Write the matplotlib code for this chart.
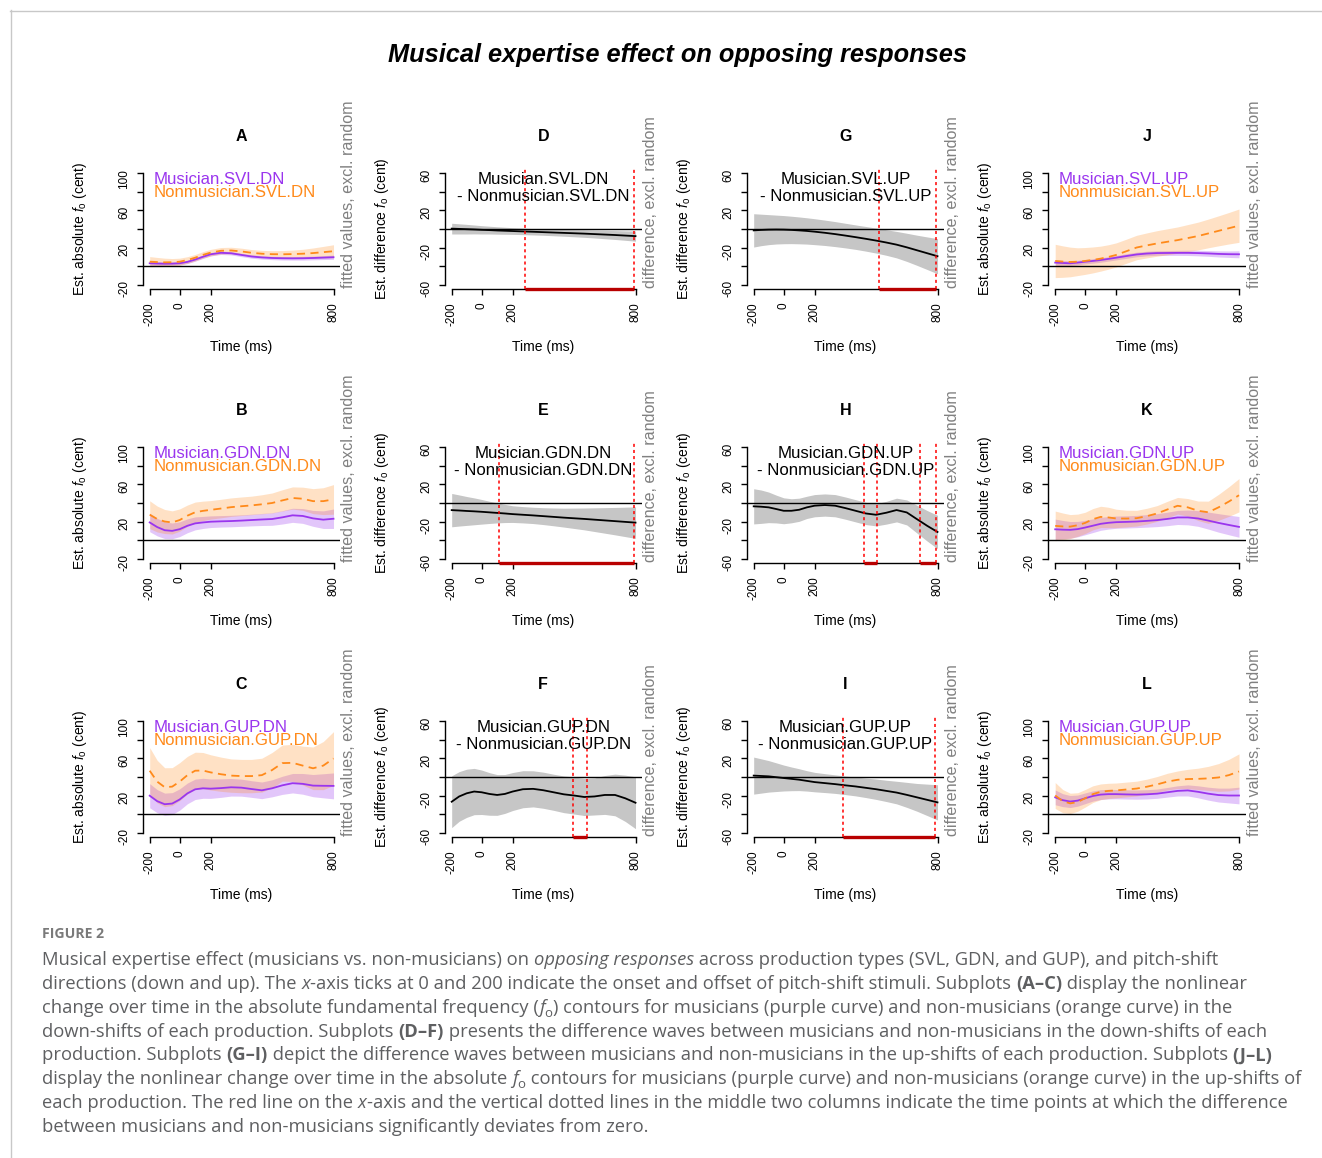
import numpy as np
import matplotlib
matplotlib.use("Agg")
import matplotlib.pyplot as plt
from matplotlib.lines import Line2D
from matplotlib.font_manager import FontProperties

plt.rcParams['font.family'] = ['Liberation Sans', 'DejaVu Sans']
plt.rcParams['mathtext.fontset'] = 'custom'
plt.rcParams['mathtext.rm'] = 'Liberation Sans'
plt.rcParams['mathtext.it'] = 'Liberation Sans:italic'

# time grid (ms)
time_ms = [-200, -150, -100, -50, 0, 50, 100, 150, 200, 250, 300,
           350, 400, 450, 500, 550, 600, 650, 700, 750, 800]

# --- absolute f0 panels: mean and half-width of the band ---
A_mus = [3, 2.7, 2.5, 2.6, 3, 4.5, 7, 10, 12.7, 14.3, 13.8, 12, 10.3, 9.3, 8.7, 8.4, 8.3, 8.4, 8.7, 9.1, 9.5]
A_mus_ci = [2.2, 2, 1.9, 1.8, 1.8, 1.8, 1.8, 1.8, 1.8, 1.8, 1.8, 1.8, 1.8, 1.8, 1.8, 1.9, 1.9, 2, 2, 2.1, 2.3]
A_non = [4.7, 4.3, 4, 4.1, 4.7, 6.5, 9, 12, 14.5, 16.5, 16.8, 15.8, 14.3, 13.3, 12.8, 12.7, 12.9, 13.3, 14, 15, 16]
A_non_ci = [5.5, 5, 4.5, 4, 3.8, 3.6, 3.5, 3.5, 3.5, 3.5, 3.5, 3.5, 3.5, 3.6, 3.8, 4, 4.3, 4.8, 5.5, 6.2, 7]

B_mus = [19, 14, 10.6, 9.9, 11.7, 15.4, 18, 19, 19.8, 20.2, 20.5, 21, 21.6, 22.2, 22.7, 24.5, 26.7, 26, 23.4, 22, 23]
B_mus_ci = [10, 9.5, 9, 8.5, 8, 7.5, 7, 6.5, 6.3, 6.2, 6.2, 6.2, 6.3, 6.5, 6.8, 7.2, 7.6, 8, 8.6, 9.5, 10.5]
B_non = [27.4, 22.7, 20, 19, 21.6, 26.3, 30, 31.5, 32.6, 34, 35.5, 36.5, 37.4, 38.6, 40, 42.8, 45.4, 44.6, 42, 42, 43.9]
B_non_ci = [15, 14, 13, 12.5, 12, 11.5, 11, 10.5, 10, 10, 10, 10, 10, 10.3, 10.8, 11.5, 12, 12.5, 13.5, 14.5, 16]

C_mus = [19.8, 13.9, 10.6, 11.3, 15.7, 22.3, 26.7, 27.8, 27.4, 28, 28.9, 28.5, 27, 25.6, 27.8, 31, 33.3, 32.6, 30.7, 30.5, 30.4]
C_mus_ci = [13, 12.5, 12, 11.8, 11.5, 11.2, 11, 10.8, 10.5, 10, 9.5, 9.2, 9, 9, 9.2, 9.8, 10.5, 11.2, 12, 13, 14]
C_non = [46.8, 35, 29, 29.6, 35, 42, 46.8, 47, 45, 43, 41.5, 41, 41, 42, 47.5, 55, 55.3, 52.3, 49.4, 52.3, 60]
C_non_ci = [25, 23, 21, 20.5, 20.5, 20.3, 20, 19.5, 19, 18.5, 18, 18, 18, 18.3, 19, 19.5, 20, 21, 23, 26, 29]

J_mus = [3.7, 3.3, 3, 3.7, 4.7, 5.5, 6.5, 7.7, 9, 10.8, 12.5, 13.5, 14, 14.1, 14.2, 14.2, 14, 13.6, 13.1, 12.8, 12.7]
J_mus_ci = [3, 2.8, 2.6, 2.5, 2.4, 2.4, 2.4, 2.4, 2.4, 2.5, 2.5, 2.5, 2.5, 2.6, 2.7, 2.8, 3, 3.1, 3.3, 3.5, 3.8]
J_non = [5.5, 4.8, 4.4, 4.7, 5.5, 6.6, 8, 9.8, 12, 16, 20, 22.3, 24.4, 26.2, 28, 30.2, 32.4, 35.2, 38, 40.8, 43.6]
J_non_ci = [18, 17, 16, 15, 14.5, 14, 13.5, 13.2, 13, 13, 13.2, 13.5, 13.8, 14, 14.2, 14.6, 15, 15.5, 16.2, 17, 18]

K_mus = [11.6, 11.2, 11, 11.8, 13.5, 15.5, 17.5, 18.6, 19.3, 19.6, 20, 20.7, 21.5, 22.8, 24.4, 24.4, 23.3, 21, 18.5, 16.3, 14.2]
K_mus_ci = [11, 10, 9, 8.3, 7.8, 7.4, 7, 6.8, 6.6, 6.6, 6.6, 6.8, 7, 7.3, 7.6, 8, 8.5, 9.2, 10, 10.6, 11.2]
K_non = [15.3, 14.7, 14.5, 16, 18.5, 22.5, 25, 24.4, 23.3, 23.2, 23.6, 25.8, 28.7, 33, 37, 35.3, 31.6, 30, 35.3, 41.5, 48.4]
K_non_ci = [16, 14.5, 13, 12, 11.5, 11.5, 11.5, 11, 10, 9, 8.5, 8.5, 8.5, 8.8, 9, 9.5, 10.5, 12, 14, 16, 18]

L_mus = [18, 15, 13.5, 14.5, 17, 19.5, 21, 21.5, 21.5, 21.2, 21, 21.3, 22, 23.5, 25, 25.5, 24, 22, 20.5, 20, 20]
L_mus_ci = [8, 7, 6.5, 6, 5.8, 5.5, 5.3, 5.2, 5, 5, 5, 5, 5, 5.2, 5.5, 6, 6.5, 7, 7.5, 8, 9]
L_non = [20, 14, 11.5, 13, 17, 21.5, 24, 25, 25.5, 26.5, 27.5, 29.5, 32, 35, 37, 37.8, 38, 38.5, 39.5, 42, 46]
L_non_ci = [14, 12.5, 11, 10, 9.5, 9, 8.5, 8.2, 8, 8, 8, 8.2, 8.5, 9, 9.5, 10.5, 11.5, 13, 15, 17, 19]

# --- difference panels: mean difference and half-width ---
D_diff = [0.4, 0.1, -0.2, -0.5, -0.9, -1.2, -1.6, -1.9, -2.2, -2.6, -3, -3.4, -3.8, -4.2, -4.6, -5, -5.5, -6, -6.5, -7.1, -7.7]
D_ci = [5.8, 5.5, 5.2, 4.8, 4.5, 4.2, 4, 3.8, 3.6, 3.5, 3.4, 3.4, 3.5, 3.6, 3.8, 4, 4.2, 4.5, 4.8, 5.1, 5.5]
E_diff = [-7.7, -8.1, -8.6, -9, -9.5, -10.1, -10.7, -11.3, -12, -12.7, -13.4, -14.2, -15, -15.8, -16.5, -17.2, -18, -18.8, -19.6, -20.4, -21.2]
E_ci = [18, 16.8, 15.6, 14.5, 13.3, 12, 10.8, 9.8, 9, 8.8, 8.8, 9.1, 9.6, 10.2, 11, 11.8, 12.8, 13.8, 14.8, 15.9, 17]
F_diff = [-26.7, -21, -17.6, -15.7, -16.5, -18.3, -19.4, -18.3, -15.7, -13.2, -12.8, -14.3, -16.5, -18.7, -20, -21.6, -21, -19.4, -19.4, -23, -27.8]
F_ci = [28, 26.8, 26, 25, 24, 23, 22, 21, 20.5, 20, 19.5, 19.5, 19.5, 19.8, 20, 20, 20, 21, 22.5, 25, 28]
G_diff = [-1.5, -1, -0.7, -0.6, -0.7, -1, -1.5, -2.1, -2.9, -4.1, -5.5, -7.1, -8.8, -10.6, -12.5, -14.6, -16.9, -19.8, -23, -26.2, -29.4]
G_ci = [18, 17, 16.2, 15.6, 15.2, 14.8, 14.5, 14.2, 14, 13.7, 13.5, 13.3, 13.2, 13.3, 13.5, 13.8, 14.3, 15.2, 16.3, 17.6, 19]
H_diff = [-3.6, -4, -4.7, -6.5, -8.4, -8.4, -7.3, -4.7, -2.9, -2.2, -2.9, -5.5, -8.4, -11.3, -12.7, -10.5, -7.6, -10.2, -17.5, -24.7, -31.3]
H_ci = [19, 18, 16.5, 15, 14, 13, 12.5, 12, 12, 12, 12, 12, 12, 12, 12, 12.3, 12.8, 13.5, 15, 16.5, 18]
I_diff = [1.5, 1.1, 0.7, -0.2, -1.1, -2, -2.9, -4.2, -5.5, -6.6, -7.7, -9, -10.2, -11.7, -13.2, -15, -16.8, -19.3, -22, -24.7, -27.4]
I_ci = [20, 18.5, 17, 15.5, 14, 12.8, 11.8, 11, 10.5, 10.2, 10, 10, 10.2, 10.5, 11, 11.5, 12.2, 13.5, 15, 17, 19]

# significant windows (ms)
D_sig = [(261, 792)]
E_sig = [(110, 795)]
F_sig = [(497, 562)]
G_sig = [(515, 792)]
H_sig = [(443, 506), (714, 792)]
I_sig = [(340, 790)]

x_ticks = [-200, 0, 200, 800]
abs_yticks = [-20, 0, 20, 40, 60, 80, 100]
abs_ylabels = ['-20', '', '20', '', '60', '', '100']
diff_yticks = [-60, -40, -20, 0, 20, 40, 60]
diff_ylabels = ['-60', '', '-20', '', '20', '', '60']

PURPLE = '#9a35ee'
ORANGE = '#ff8a1a'
GRAY_TXT = '#808080'

# the x axis in the original is stretched differently before and after 200 ms
T_KNOTS = [-200.0, 0.0, 200.0, 800.0]
P_KNOTS = [0.0, 30.0, 61.0, 184.0]


def _pw(v, xs, ys):
    v = np.asarray(v, dtype=float)
    out = np.interp(v, xs, ys)
    lo = (ys[1] - ys[0]) / (xs[1] - xs[0])
    hi = (ys[-1] - ys[-2]) / (xs[-1] - xs[-2])
    out = np.where(v < xs[0], ys[0] + (v - xs[0]) * lo, out)
    out = np.where(v > xs[-1], ys[-1] + (v - xs[-1]) * hi, out)
    return out


def t2p(t):
    return _pw(t, T_KNOTS, P_KNOTS)


def p2t(p):
    return _pw(p, P_KNOTS, T_KNOTS)


W, H = 1322, 1158
fig = plt.figure(figsize=(W / 100, H / 100), dpi=100)

col_left = [142.5, 444.5, 746.5, 1048.0]
row_top = [169, 443, 717]
ax_w, ax_h = 197.5, 120
TXT = 12.1


def make_ax(col, row):
    l, t = col_left[col], row_top[row]
    ax = fig.add_axes([l / W, 1 - (t + ax_h) / H, ax_w / W, ax_h / H])
    ax.set_xscale('function', functions=(t2p, p2t))
    ax.set_xlim(float(p2t(-7.2)), float(p2t(190.5)))
    for s in ['top', 'right']:
        ax.spines[s].set_visible(False)
    ax.spines['bottom'].set_bounds(-200, 800)
    ax.set_xticks(x_ticks, labels=[str(v) for v in x_ticks])
    ax.xaxis.set_minor_locator(matplotlib.ticker.NullLocator())
    ax.tick_params(axis='x', labelrotation=90, labelsize=8.5, length=4.5, width=1, pad=5)
    ax.tick_params(axis='y', labelrotation=90, labelsize=8.5, length=4, width=1, pad=5)
    for s in ['left', 'bottom']:
        ax.spines[s].set_linewidth(1)
    ax.axhline(0, color='black', lw=1, zorder=3)
    ax.set_xlabel('Time (ms)', fontsize=10, va='center')
    ax.xaxis.set_label_coords(0.5, -0.483)
    return ax


def abs_panel(col, row, letter, cond, mus, mus_ci, non, non_ci):
    ax = make_ax(col, row)
    ax.set_ylim(-24.8, 104.8)
    ax.spines['left'].set_bounds(-20, 100)
    ax.set_yticks(abs_yticks, labels=abs_ylabels)
    t = np.array(time_ms)
    for mean, ci, c, ls, a in [(mus, mus_ci, PURPLE, '-', 0.28),
                               (non, non_ci, ORANGE, (0, (4.5, 3)), 0.25)]:
        m, h = np.array(mean), np.array(ci)
        ax.fill_between(t, m - h, m + h, color=c, alpha=a, lw=0)
        ax.plot(t, m, color=c, ls=ls, lw=1.3)
    ax.text(0.055, 0.915, 'Musician.' + cond, color=PURPLE, fontsize=TXT,
            ha='left', va='center', transform=ax.transAxes)
    ax.text(0.055, 0.808, 'Nonmusician.' + cond, color=ORANGE, fontsize=TXT,
            ha='left', va='center', transform=ax.transAxes)
    ax.set_ylabel(r'Est. absolute $f_\mathrm{o}$ (cent)', fontsize=10, va='center')
    ax.yaxis.set_label_coords(-0.318, 0.5)
    ax.text(1.045, 0.012, 'fitted values, excl. random', rotation=90, color=GRAY_TXT,
            fontsize=11.6, ha='center', va='bottom', transform=ax.transAxes)
    ax.text(0.5, 1.27, letter, fontsize=11.5, fontweight='bold', ha='center',
            va='center', transform=ax.transAxes)


def diff_panel(col, row, letter, cond, diff, ci, sig):
    ax = make_ax(col, row)
    ax.set_ylim(-64.8, 64.8)
    ax.spines['left'].set_bounds(-60, 60)
    ax.set_yticks(diff_yticks, labels=diff_ylabels)
    t = np.array(time_ms)
    m, h = np.array(diff), np.array(ci)
    ax.fill_between(t, m - h, m + h, color='#c6c6c6', lw=0, zorder=1)
    ax.plot(t, m, color='black', lw=1.3, zorder=4)
    for a, b in sig:
        for v in (a, b):
            ax.axvline(v, color='red', ls=(0, (2, 2)), lw=1.1, zorder=5)
        ax.plot([a, b], [0, 0], color='#b80000', lw=2.4, solid_capstyle='butt',
                transform=ax.get_xaxis_transform(), clip_on=False, zorder=6)
    ax.text(0.5, 0.842, 'Musician.' + cond + '\n- Nonmusician.' + cond, fontsize=TXT,
            ha='center', va='center', multialignment='center', linespacing=1.22,
            transform=ax.transAxes, zorder=7)
    ax.set_ylabel(r'Est. difference $f_\mathrm{o}$ (cent)', fontsize=10, va='center')
    ax.yaxis.set_label_coords(-0.318, 0.5)
    ax.text(1.045, 0.012, 'difference, excl. random', rotation=90, color=GRAY_TXT,
            fontsize=11.6, ha='center', va='bottom', transform=ax.transAxes)
    ax.text(0.5, 1.27, letter, fontsize=11.5, fontweight='bold', ha='center',
            va='center', transform=ax.transAxes)


abs_panel(0, 0, 'A', 'SVL.DN', A_mus, A_mus_ci, A_non, A_non_ci)
abs_panel(0, 1, 'B', 'GDN.DN', B_mus, B_mus_ci, B_non, B_non_ci)
abs_panel(0, 2, 'C', 'GUP.DN', C_mus, C_mus_ci, C_non, C_non_ci)
diff_panel(1, 0, 'D', 'SVL.DN', D_diff, D_ci, D_sig)
diff_panel(1, 1, 'E', 'GDN.DN', E_diff, E_ci, E_sig)
diff_panel(1, 2, 'F', 'GUP.DN', F_diff, F_ci, F_sig)
diff_panel(2, 0, 'G', 'SVL.UP', G_diff, G_ci, G_sig)
diff_panel(2, 1, 'H', 'GDN.UP', H_diff, H_ci, H_sig)
diff_panel(2, 2, 'I', 'GUP.UP', I_diff, I_ci, I_sig)
abs_panel(3, 0, 'J', 'SVL.UP', J_mus, J_mus_ci, J_non, J_non_ci)
abs_panel(3, 1, 'K', 'GDN.UP', K_mus, K_mus_ci, K_non, K_non_ci)
abs_panel(3, 2, 'L', 'GUP.UP', L_mus, L_mus_ci, L_non, L_non_ci)

fig.text(678 / W, 1 - 55 / H, 'Musical expertise effect on opposing responses',
         fontsize=18.3, fontweight='bold', fontstyle='italic', ha='center', va='center')

# frame of the figure box
fig.add_artist(Line2D([10 / W, 1], [1 - 10.5 / H, 1 - 10.5 / H], color='#c8c8c8', lw=1))
fig.add_artist(Line2D([10.5 / W, 10.5 / W], [0, 1 - 10 / H], color='#c8c8c8', lw=1))

# ---- caption ----
CAP_FONT = 'Open Sans'
CAP_SIZE = 13.2
CAP_COLOR = '#5e5f61'

caption = [
    [("Musical expertise effect (musicians vs. non-musicians) on ", 'n'), ("opposing responses", 'i'),
     (" across production types (SVL, GDN, and GUP), and pitch-shift", 'n')],
    [("directions (down and up). The ", 'n'), ("x", 'i'),
     ("-axis ticks at 0 and 200 indicate the onset and offset of pitch-shift stimuli. Subplots ", 'n'),
     ("(A\u2013C)", 'b'), (" display the nonlinear", 'n')],
    [("change over time in the absolute fundamental frequency (", 'n'), ("f", 'i'), ("o", 's'),
     (") contours for musicians (purple curve) and non-musicians (orange curve) in the", 'n')],
    [("down-shifts of each production. Subplots ", 'n'), ("(D\u2013F)", 'b'),
     (" presents the difference waves between musicians and non-musicians in the down-shifts of each", 'n')],
    [("production. Subplots ", 'n'), ("(G\u2013I)", 'b'),
     (" depict the difference waves between musicians and non-musicians in the up-shifts of each production. Subplots ", 'n'),
     ("(J\u2013L)", 'b')],
    [("display the nonlinear change over time in the absolute ", 'n'), ("f", 'i'), ("o", 's'),
     (" contours for musicians (purple curve) and non-musicians (orange curve) in the up-shifts of", 'n')],
    [("each production. The red line on the ", 'n'), ("x", 'i'),
     ("-axis and the vertical dotted lines in the middle two columns indicate the time points at which the difference", 'n')],
    [("between musicians and non-musicians significantly deviates from zero.", 'n')],
]

renderer = fig.canvas.get_renderer()


def text_width(s, prop):
    w1, _, _ = renderer.get_text_width_height_descent('|' + s + '|', prop, ismath=False)
    w0, _, _ = renderer.get_text_width_height_descent('||', prop, ismath=False)
    return w1 - w0


fig.text(42 / W, 1 - 938 / H, 'FIGURE 2', fontsize=10.1, fontweight='bold',
         color='#7a7a7a', family=CAP_FONT, ha='left', va='baseline')

for i, parts in enumerate(caption):
    x = 42.0
    y = 965.0 + i * 23.86
    for s, style in parts:
        size = CAP_SIZE * (0.72 if style == 's' else 1.0)
        prop = FontProperties(family=CAP_FONT, size=size,
                              style='italic' if style == 'i' else 'normal',
                              weight='bold' if style == 'b' else 'normal')
        dy = 4 if style == 's' else 0.0
        fig.text(x / W, 1 - (y + dy) / H, s, fontproperties=prop, color=CAP_COLOR,
                 ha='left', va='baseline')
        x += text_width(s, prop)

fig.savefig('out.png', dpi=100)
